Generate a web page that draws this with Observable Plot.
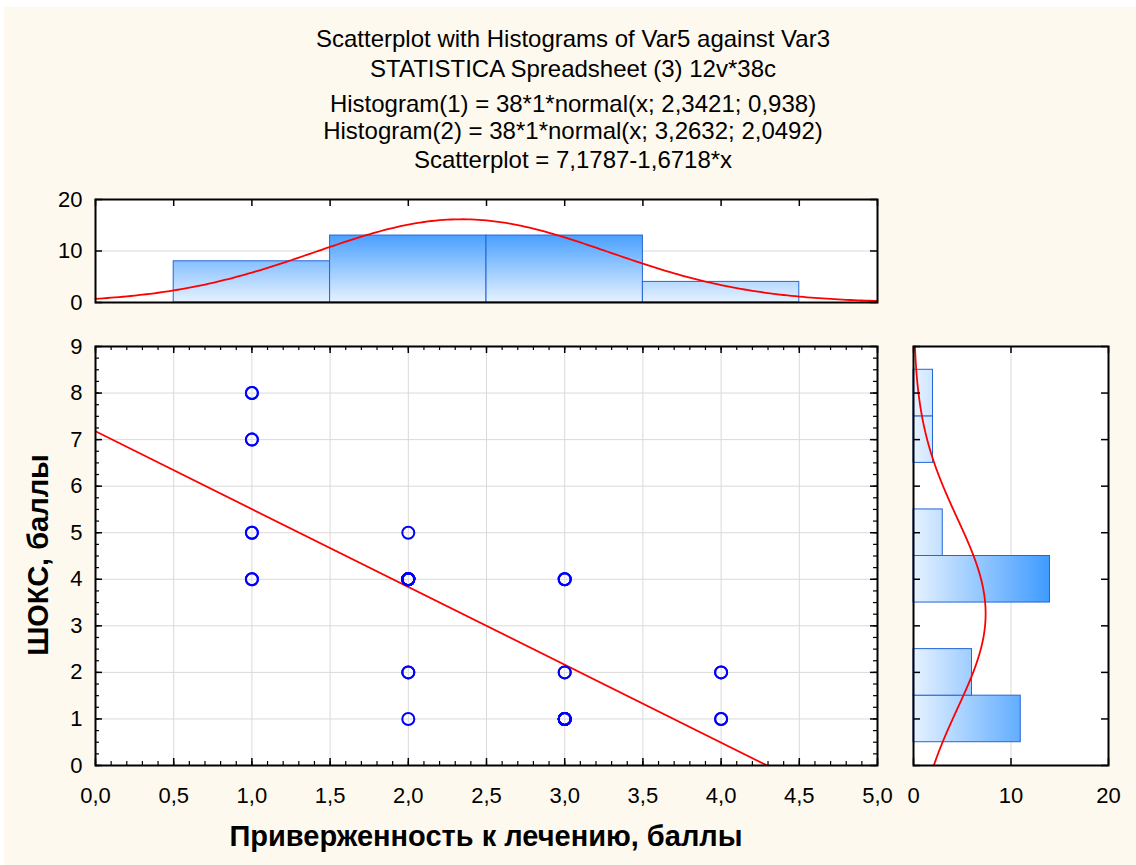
<!DOCTYPE html>
<html>
<head>
<meta charset="utf-8">
<script src="https://cdn.jsdelivr.net/npm/d3@7"></script>
<script src="https://cdn.jsdelivr.net/npm/@observablehq/plot@0.6"></script>
<style>
  html, body { margin: 0; padding: 0; background: #ffffff; }
  #page { position: relative; width: 1136px; height: 865px; overflow: hidden;
          font-family: "Liberation Sans", Arial, sans-serif; color: #000; }
  #bg { position: absolute; left: 4px; top: 7px; right: 0; bottom: 0; background: #fef9ee; }
  .t { position: absolute; transform: translate(-50%, -50%); white-space: nowrap; line-height: 1; }
  .title { font-size: 24px; }
  .axtitle { font-size: 29px; font-weight: bold; }
  .panel { position: absolute; }
  .panel svg { overflow: visible; }
</style>
</head>
<body>
<div id="page"><div id="bg"></div></div>
<script>
// ---- data ----------------------------------------------------------------
const titleLines = [
  "Scatterplot with Histograms of Var5 against Var3",
  "STATISTICA Spreadsheet (3) 12v*38c",
  "Histogram(1) = 38*1*normal(x; 2,3421; 0,938)",
  "Histogram(2) = 38*1*normal(x; 3,2632; 2,0492)",
  "Scatterplot = 7,1787-1,6718*x"
];
const xTitle = "Приверженность к лечению, баллы";
const yTitle = "ШОКС, баллы";

// scatter cases: distinct (x, y) pairs and how many cases fall on each
const pointX = [1, 1, 1, 1, 2, 2, 2, 2, 3, 3, 3, 4, 4];
const pointY = [8, 7, 5, 4, 5, 4, 2, 1, 4, 2, 1, 2, 1];
const pointN = [2, 2, 2, 2, 1, 9, 2, 1, 3, 2, 8, 2, 2];

// histogram of Var3 (top margin)
const topBinLo = [0.5, 1.5, 2.5, 3.5];
const topBinHi = [1.5, 2.5, 3.5, 4.5];
const topCounts = [8, 13, 13, 4];

// histogram of Var5 (right margin)
const rightBinLo = [0.5, 1.5, 2.5, 3.5, 4.5, 5.5, 6.5, 7.5];
const rightBinHi = [1.5, 2.5, 3.5, 4.5, 5.5, 6.5, 7.5, 8.5];
const rightCounts = [11, 6, 0, 14, 3, 0, 2, 2];

// fitted curves stated in the header
const nCases = 38, binWidth = 1;
const muX = 2.3421, sdX = 0.938;
const muY = 3.2632, sdY = 2.0492;
const intercept = 7.1787, slope = -1.6718;

// axis ticks
const xMajor = [0, 0.5, 1, 1.5, 2, 2.5, 3, 3.5, 4, 4.5, 5];
const yMajor = [0, 1, 2, 3, 4, 5, 6, 7, 8, 9];
const topCountTicks = [0, 10, 20];
const rightCountTicks = [0, 10, 20];

// ---- derived tables ------------------------------------------------------
const cases = [];
pointX.forEach((x, i) => { for (let k = 0; k < pointN[i]; k++) cases.push({x, y: pointY[i]}); });
const topBins = topCounts.map((c, i) => ({lo: topBinLo[i], hi: topBinHi[i], count: c}));
const rightBins = rightCounts.map((c, i) => ({lo: rightBinLo[i], hi: rightBinHi[i], count: c})).filter(d => d.count > 0);
const normal = (v, mu, sd) => nCases * binWidth * Math.exp(-0.5 * ((v - mu) / sd) ** 2) / (sd * Math.sqrt(2 * Math.PI));
const topCurve = d3.range(0, 5.0001, 0.025).map(v => ({v, f: normal(v, muX, sdX)}));
const rightCurve = d3.range(0, 9.0001, 0.025).map(v => ({v, f: normal(v, muY, sdY)}));
const regression = [0, 5].map(x => ({x, y: intercept + slope * x}));
const xMinor = d3.range(0, 5.0001, 0.1).map(v => +v.toFixed(2));
const yMinor = d3.range(0, 9.0001, 0.25);
const fmt1 = d => d.toFixed(1).replace(".", ",");

// ---- layout --------------------------------------------------------------
const page = document.getElementById("page");
const font = {fontFamily: "'Liberation Sans', Arial, sans-serif", fontSize: "22px", color: "#000", background: "transparent", overflow: "visible"};
const gridColor = "#d9d9d9";
const barStroke = "#2465d8";

function place(node, left, top) {
  const d = document.createElement("div");
  d.className = "panel";
  d.style.left = left + "px";
  d.style.top = top + "px";
  d.appendChild(node);
  page.appendChild(d);
}

function text(str, cls, x, y, rotate) {
  const d = document.createElement("div");
  d.className = "t " + cls;
  d.textContent = str;
  d.style.left = x + "px";
  d.style.top = y + "px";
  if (rotate) d.style.transform = "translate(-50%, -50%) rotate(" + rotate + "deg)";
  page.appendChild(d);
}

// short inward ticks along one edge of a frame
function edgeTicksX(values, side, len, innerH, sw = 1.5) {
  return Plot.tickX(values, {x: d => d, stroke: "#000", strokeWidth: sw,
    insetTop: side === "bottom" ? innerH - len : 0,
    insetBottom: side === "top" ? innerH - len : 0});
}
function edgeTicksY(values, side, len, innerW, sw = 1.5) {
  return Plot.tickY(values, {y: d => d, stroke: "#000", strokeWidth: sw,
    insetRight: side === "left" ? innerW - len : 0,
    insetLeft: side === "right" ? innerW - len : 0});
}

function addGradient(svg, id, x1, y1, x2, y2, c0, c1) {
  const ns = "http://www.w3.org/2000/svg";
  const defs = document.createElementNS(ns, "defs");
  const g = document.createElementNS(ns, "linearGradient");
  g.setAttribute("id", id);
  g.setAttribute("gradientUnits", "userSpaceOnUse");
  g.setAttribute("x1", x1); g.setAttribute("y1", y1);
  g.setAttribute("x2", x2); g.setAttribute("y2", y2);
  [[0, c0], [1, c1]].forEach(([o, c]) => {
    const s = document.createElementNS(ns, "stop");
    s.setAttribute("offset", o);
    s.setAttribute("stop-color", c);
    g.appendChild(s);
  });
  defs.appendChild(g);
  svg.insertBefore(defs, svg.firstChild);
}

// main scatterplot: frame 95..877 x 346..765
const M = {left: 0, top: 300, width: 900, height: 560, ml: 95, mr: 23, mt: 46, mb: 95};
const mW = M.width - M.ml - M.mr, mH = M.height - M.mt - M.mb;
const scatter = Plot.plot({
  width: M.width, height: M.height,
  marginLeft: M.ml, marginRight: M.mr, marginTop: M.mt, marginBottom: M.mb,
  style: font,
  x: {domain: [0, 5]},
  y: {domain: [0, 9]},
  marks: [
    Plot.frame({fill: "#ffffff", stroke: null}),
    Plot.gridX(xMajor, {stroke: gridColor, strokeOpacity: 1, strokeWidth: 1}),
    Plot.gridY(yMajor, {stroke: gridColor, strokeOpacity: 1, strokeWidth: 1}),
    Plot.line(regression, {x: "x", y: "y", stroke: "#ff0000", strokeWidth: 1.8, clip: true}),
    Plot.dot(cases, {x: "x", y: "y", r: 6, stroke: "#0000ff", strokeWidth: 2, fill: "none"}),
    edgeTicksX(xMinor, "bottom", 4, mH, 1.2),
    edgeTicksX(xMinor, "top", 4, mH, 1.2),
    edgeTicksX(xMajor, "bottom", 7, mH),
    edgeTicksX(xMajor, "top", 7, mH),
    edgeTicksY(yMinor, "left", 4, mW, 1.2),
    edgeTicksY(yMinor, "right", 4, mW, 1.2),
    edgeTicksY(yMajor, "left", 7, mW),
    edgeTicksY(yMajor, "right", 7, mW),
    Plot.frame({stroke: "#000", strokeWidth: 2}),
    Plot.axisX(xMajor, {tickSize: 0, tickPadding: 22, tickFormat: fmt1, label: null}),
    Plot.axisY(yMajor, {tickSize: 0, tickPadding: 13, tickFormat: d => String(d), label: null})
  ]
});
place(scatter, M.left, M.top);

// top histogram: frame 95..877 x 199..302
const T = {left: 0, top: 180, width: 900, height: 140, ml: 95, mr: 23, mt: 19, mb: 18};
const tW = T.width - T.ml - T.mr, tH = T.height - T.mt - T.mb;
const topHist = Plot.plot({
  width: T.width, height: T.height,
  marginLeft: T.ml, marginRight: T.mr, marginTop: T.mt, marginBottom: T.mb,
  style: font,
  x: {domain: [0, 5]},
  y: {domain: [0, 20]},
  marks: [
    Plot.frame({fill: "#ffffff", stroke: null}),
    Plot.gridY([10], {stroke: gridColor, strokeOpacity: 1, strokeWidth: 1}),
    Plot.rectY(topBins, {x1: "lo", x2: "hi", y: "count", fill: "url(#gradTop)", stroke: barStroke, strokeWidth: 1}),
    Plot.line(topCurve, {x: "v", y: "f", stroke: "#ff0000", strokeWidth: 1.8}),
    edgeTicksX(xMajor, "top", 7, tH),
    edgeTicksY(topCountTicks, "left", 7, tW),
    edgeTicksY(topCountTicks, "right", 7, tW),
    Plot.frame({stroke: "#000", strokeWidth: 2}),
    Plot.axisY(topCountTicks, {tickSize: 0, tickPadding: 13, label: null}),
    Plot.axisX([], {tickSize: 0, label: null})
  ]
});
{
  const ys = topHist.scale("y");
  addGradient(topHist, "gradTop", 0, ys.apply(0), 0, ys.apply(d3.max(topCounts)), "#e6f2ff", "#4aa0ff");
}
place(topHist, T.left, T.top);

// right histogram: frame 913..1108 x 346..765
const R = {left: 895, top: 300, width: 241, height: 560, ml: 18, mr: 28, mt: 46, mb: 95};
const rW = R.width - R.ml - R.mr, rH = R.height - R.mt - R.mb;
const rightHist = Plot.plot({
  width: R.width, height: R.height,
  marginLeft: R.ml, marginRight: R.mr, marginTop: R.mt, marginBottom: R.mb,
  style: font,
  x: {domain: [0, 20]},
  y: {domain: [0, 9]},
  marks: [
    Plot.frame({fill: "#ffffff", stroke: null}),
    Plot.gridX([10], {stroke: gridColor, strokeOpacity: 1, strokeWidth: 1}),
    Plot.rectX(rightBins, {y1: "lo", y2: "hi", x: "count", fill: "url(#gradRight)", stroke: barStroke, strokeWidth: 1}),
    Plot.line(rightCurve, {x: "f", y: "v", stroke: "#ff0000", strokeWidth: 1.8}),
    edgeTicksY(yMajor, "left", 7, rW),
    edgeTicksY(yMajor, "right", 7, rW),
    edgeTicksX(rightCountTicks, "top", 7, rH),
    edgeTicksX(rightCountTicks, "bottom", 7, rH),
    Plot.frame({stroke: "#000", strokeWidth: 2}),
    Plot.axisX(rightCountTicks, {tickSize: 0, tickPadding: 22, label: null}),
    Plot.axisY([], {tickSize: 0, label: null})
  ]
});
{
  const xs = rightHist.scale("x");
  addGradient(rightHist, "gradRight", xs.apply(0), 0, xs.apply(d3.max(rightCounts)), 0, "#e6f2ff", "#3f9bff");
}
place(rightHist, R.left, R.top);

// header and axis titles
const titleY = [39, 69, 104, 131, 160];
titleLines.forEach((s, i) => text(s, "title", 573, titleY[i]));
text(xTitle, "axtitle", 486, 836);
text(yTitle, "axtitle", 38, 555, -90);
</script>
</body>
</html>
